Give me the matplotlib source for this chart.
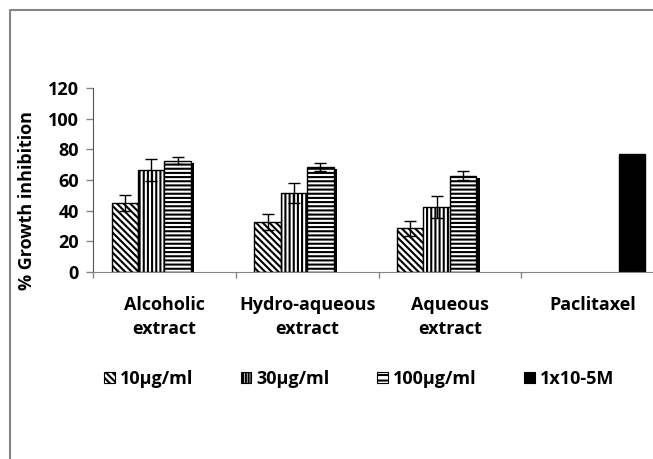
"""Growth inhibition by extract type and concentration, grouped hatched bars."""

import matplotlib

matplotlib.use("Agg")
import matplotlib.pyplot as plt
import matplotlib.patheffects as pe
from matplotlib.lines import Line2D
from matplotlib.patches import Patch
import numpy as np

categories = ["Alcoholic\nextract", "Hydro-aqueous\nextract", "Aqueous\nextract", "Paclitaxel"]
series_labels = ["10\u00b5g/ml", "30\u00b5g/ml", "100\u00b5g/ml", "1x10-5M"]

extract_idx = [0, 1, 2]
conc_10 = [45.3, 32.7, 28.4]
err_10 = [5.2, 5.0, 5.0]
conc_30 = [66.5, 51.3, 42.2]
err_30 = [7.0, 6.5, 7.2]
conc_100 = [72.6, 68.4, 62.8]
err_100 = [2.4, 2.4, 3.0]

paclitaxel_idx = [3]
paclitaxel = [76.7]

W, H = 653, 459
INK = "#000000"
GRAY = "#868686"
FS = 13

plt.rcParams["font.family"] = ["Open Sans", "DejaVu Sans"]
plt.rcParams["font.weight"] = "bold"
plt.rcParams["hatch.linewidth"] = 1.5

fig = plt.figure(figsize=(W / 100, H / 100), dpi=100, facecolor="white")
ax = fig.add_axes([93 / W, 1 - 272 / H, 571 / W, 184 / H])

width = 0.185
offsets = np.array([-1.5, -0.5, 0.5, 1.5]) * width
shadow = [pe.SimplePatchShadow(offset=(2.5, -1.5), shadow_rgbFace="black", alpha=1.0), pe.Normal()]

groups = [
    (extract_idx, conc_10, err_10, "\\\\\\\\\\", "white"),
    (extract_idx, conc_30, err_30, "||||", "white"),
    (extract_idx, conc_100, err_100, "----", "white"),
    (paclitaxel_idx, paclitaxel, None, None, "black"),
]

for k, (idx, vals, errs, hatch, face) in enumerate(groups):
    x = np.asarray(idx) + offsets[k]
    bars = ax.bar(x, vals, width=width, color=face, edgecolor=INK, hatch=hatch,
                  linewidth=1.0, zorder=2)
    if hatch is not None:
        for b in bars:
            b.set_path_effects(shadow)
    if errs is not None:
        ax.errorbar(x, vals, yerr=errs, fmt="none", ecolor=INK, elinewidth=1.0,
                    capsize=4, capthick=1.0, zorder=4)

ax.set_xlim(-0.5, 3.5)
ax.set_ylim(0, 120)
ax.set_yticks(range(0, 121, 20))
ax.tick_params(axis="y", direction="out", length=5, width=1, colors=GRAY,
               labelcolor=INK, labelsize=FS, pad=5)
ax.set_xticks(range(len(categories)), categories)
ax.tick_params(axis="x", length=0, labelsize=FS, pad=17, labelcolor=INK)
for lab in ax.get_xticklabels():
    lab.set_linespacing(1.45)
ax.set_xticks(np.arange(-0.5, 3.6, 1.0), minor=True)
ax.tick_params(axis="x", which="minor", direction="out", length=4, width=1, colors=GRAY)

for s in ("top", "right"):
    ax.spines[s].set_visible(False)
ax.spines["left"].set_color("#555555")
ax.spines["bottom"].set_color(GRAY)
ax.set_facecolor("none")

fig.text(27 / W, 1 - 201 / H, "% Growth inhibition", rotation=90, ha="center", va="center",
         fontsize=FS, fontweight="bold", color=INK)

handles = [
    Patch(facecolor="white", edgecolor=INK, hatch="\\\\\\\\\\", linewidth=0.8),
    Patch(facecolor="white", edgecolor=INK, hatch="||||||", linewidth=0.8),
    Patch(facecolor="white", edgecolor=INK, hatch="---", linewidth=0.8),
    Patch(facecolor="black", edgecolor=INK, linewidth=0.8),
]
fig.legend(handles, series_labels, loc="center left", bbox_to_anchor=(104 / W, 1 - 379 / H),
           ncol=4, frameon=False, fontsize=FS, handlelength=0.6, handleheight=0.6,
           handletextpad=0.3, columnspacing=2.6, borderaxespad=0, borderpad=0)

# outer chart-area frame (left and top edges only visible in the crop)
fig.add_artist(Line2D([10 / W, 10 / W, 1.0], [0.0, 1 - 10 / H, 1 - 10 / H],
                      transform=fig.transFigure, color=GRAY, linewidth=1.5))

fig.savefig("out.png", dpi=100, facecolor="white")
